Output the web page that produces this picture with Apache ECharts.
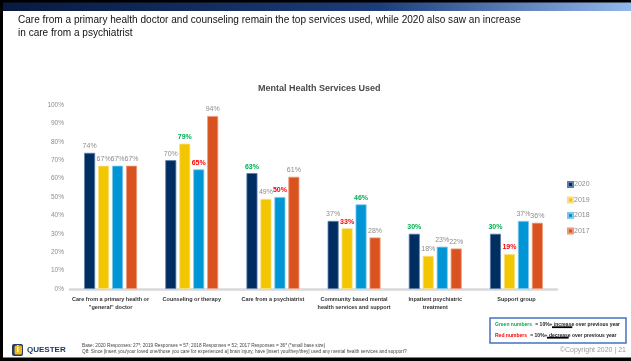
<!DOCTYPE html>
<html>
<head>
<meta charset="utf-8">
<script src="https://cdn.jsdelivr.net/npm/echarts@6/dist/echarts.min.js"></script>
<style>
  html, body { margin: 0; padding: 0; background: #fff; }
  #chart { width: 631px; height: 361px; }
</style>
</head>
<body>
<div id="chart"></div>
<script>
// Services asked about, one group of bars each
const categories = [
  'Care from a primary health or\n"general" doctor',
  'Counseling or therapy',
  'Care from a psychiatrist',
  'Community based mental\nhealth services and support',
  'Inpatient psychiatric\ntreatment',
  'Support group'
];

const years = ['2020', '2019', '2018', '2017'];

// Share of respondents using each service, in percent
const values2020 = [74, 70, 63, 37, 30, 30];
const values2019 = [67, 79, 49, 33, 18, 19];
const values2018 = [67, 65, 50, 46, 23, 37];
const values2017 = [67, 94, 61, 28, 22, 36];

// Year-on-year change flags: 'up' = 10%+ increase, 'down' = 10%+ decrease
const change2020 = ['', '', 'up', '', 'up', 'up'];
const change2019 = ['', 'up', '', 'down', '', 'down'];
const change2018 = ['', 'down', 'down', 'up', '', ''];
const change2017 = ['', '', '', '', '', ''];

const yTicks = [0, 10, 20, 30, 40, 50, 60, 70, 80, 90, 100];

const seriesValues = [values2020, values2019, values2018, values2017];
const seriesChanges = [change2020, change2019, change2018, change2017];
const colors = ['#002D62', '#F2C600', '#0095D5', '#D8531F'];
const edges = ['#5a7fa8', '#f8e080', '#7cc8ea', '#ec9a78'];

const FONT = '"Liberation Sans", Arial, sans-serif';

// text width helper for placing the underlines in the key box
const measureCtx = document.createElement('canvas').getContext('2d');
function textWidth(str, font) {
  measureCtx.font = font;
  return measureCtx.measureText(str).width;
}

const chart = echarts.init(document.getElementById('chart'), null, { renderer: 'canvas' });

const series = years.map((y, i) => ({
  name: y,
  type: 'bar',
  barWidth: 11,
  barGap: '27%',
  itemStyle: { color: colors[i], borderColor: edges[i], borderWidth: 0.8 },
  data: seriesValues[i].map((v, j) => {
    const c = seriesChanges[i][j];
    const lbl = c === 'up'
      ? { color: '#00B050', fontWeight: 'bold' }
      : c === 'down'
        ? { color: '#FF0000', fontWeight: 'bold' }
        : { color: '#8c8c8c', fontWeight: 'normal' };
    return { value: v, label: lbl };
  }),
  label: {
    show: true,
    position: 'top',
    distance: 3,
    fontSize: 7,
    fontFamily: FONT,
    formatter: p => p.value + '%'
  }
}));

// key box lines: coloured lead-in, plain text, underlined word, rest
const keyFont = 'bold 5px ' + FONT;
function keyLine(x, y, lead, leadColor, mid, word, rest) {
  const wLead = textWidth(lead + ' ', keyFont);
  const wMid = textWidth(mid, keyFont);
  const wWord = textWidth(word, keyFont);
  return [
    {
      type: 'text', x: x, y: y,
      style: {
        rich: {
          c: { fill: leadColor, font: keyFont },
          t: { fill: '#222', font: keyFont }
        },
        text: '{c|' + lead + '} {t|' + mid + word + rest + '}',
        verticalAlign: 'middle'
      }
    },
    { type: 'rect', shape: { x: x + wLead + wMid, y: y + 1.3, width: wWord, height: 1.8 }, style: { fill: '#000' } }
  ];
}

chart.setOption({
  animation: false,
  backgroundColor: '#fff',
  grid: { left: 70, right: 74, top: 105, bottom: 72, containLabel: false },
  legend: {
    orient: 'vertical',
    left: 567,
    top: 181,
    padding: 0,
    itemWidth: 5,
    itemHeight: 5,
    itemGap: 8.5,
    icon: 'rect',
    textStyle: { fontSize: 7, color: '#8c8c8c', fontFamily: FONT, padding: [0, 0, 0, -4] },
    data: years
  },
  xAxis: {
    type: 'category',
    data: categories,
    axisLine: { show: true, lineStyle: { color: '#D9D9D9', width: 2.5 } },
    axisTick: { show: false },
    axisLabel: {
      interval: 0,
      margin: 6,
      fontSize: 5.5,
      fontWeight: 'bold',
      lineHeight: 8.5,
      color: '#333',
      fontFamily: FONT
    }
  },
  yAxis: {
    type: 'value',
    min: yTicks[0],
    max: yTicks[yTicks.length - 1],
    interval: 10,
    splitLine: { show: false },
    axisLine: { show: false },
    axisTick: { show: false },
    axisLabel: {
      margin: 6,
      fontSize: 6.5,
      color: '#8c8c8c',
      fontFamily: FONT,
      formatter: '{value}%'
    }
  },
  series: series,
  graphic: [
    // slide frame
    { type: 'rect', shape: { x: 0, y: 0, width: 631, height: 3 }, style: { fill: '#000' } },
    {
      type: 'rect', shape: { x: 0, y: 2.5, width: 631, height: 8.5 },
      style: {
        fill: new echarts.graphic.LinearGradient(0, 0, 1, 0, [
          { offset: 0, color: '#081a40' },
          { offset: 0.6, color: '#1d3d78' },
          { offset: 1, color: '#93b8ec' }
        ])
      }
    },
    { type: 'rect', shape: { x: 0, y: 0, width: 3, height: 361 }, style: { fill: '#000' } },
    { type: 'rect', shape: { x: 0, y: 357.5, width: 631, height: 4 }, style: { fill: '#000' } },
    // headline
    {
      type: 'text', x: 18, y: 13.5, scaleX: 0.875,
      style: {
        text: 'Care from a primary health doctor and counseling remain the top services used, while 2020 also saw an increase\nin care from a psychiatrist',
        font: '11.5px ' + FONT,
        lineHeight: 13,
        fill: '#111'
      }
    },
    // chart title
    {
      type: 'text', x: 258, y: 84,
      style: {
        text: 'Mental Health Services Used',
        font: 'bold 9px ' + FONT,
        fill: '#4a4a4a'
      }
    },
    // key box
    { type: 'rect', shape: { x: 490, y: 318, width: 136, height: 25 }, style: { fill: '#fff', stroke: '#4472C4', lineWidth: 1.5 } },
    ...keyLine(495, 325, 'Green numbers', '#00B050', '= 10%+ ', 'increase', ' over previous year'),
    ...keyLine(495, 335.5, 'Red numbers', '#FF0000', '= 10%+ ', 'decrease', ' over previous year'),
    // footer
    {
      type: 'text', right: 5, top: 347,
      style: { text: '\u00A9Copyright 2020 | 21', font: '7px ' + FONT, fill: '#9a9a9a' }
    },
    { type: 'rect', shape: { x: 12, y: 344, width: 11, height: 12, r: 2 }, style: { fill: '#1f3a6e' } },
    { type: 'rect', shape: { x: 14.5, y: 345.5, width: 7.5, height: 9, r: 1.5 }, style: { fill: '#F4B81C' } },
    { type: 'text', x: 16.5, y: 345, style: { text: 'i', font: 'bold 9px ' + FONT, fill: '#fff' } },
    {
      type: 'text', x: 27, y: 345.5,
      style: { text: 'QUESTER', font: 'bold 8px ' + FONT, fill: '#1F3864', textLetterSpacing: 0.8 }
    },
    {
      type: 'text', x: 82, y: 343,
      style: {
        text: 'Base: 2020 Responses: 27*; 2019 Responses = 57; 2018 Responses = 52; 2017 Responses = 36* (*small base size)\nQ8: Since [insert you/your loved one/those you care for experienced a] brain injury, have [insert you/they/they] used any mental health services and support?',
        font: '4.7px ' + FONT,
        lineHeight: 5.5,
        fill: '#444'
      }
    }
  ]
});
</script>
</body>
</html>
